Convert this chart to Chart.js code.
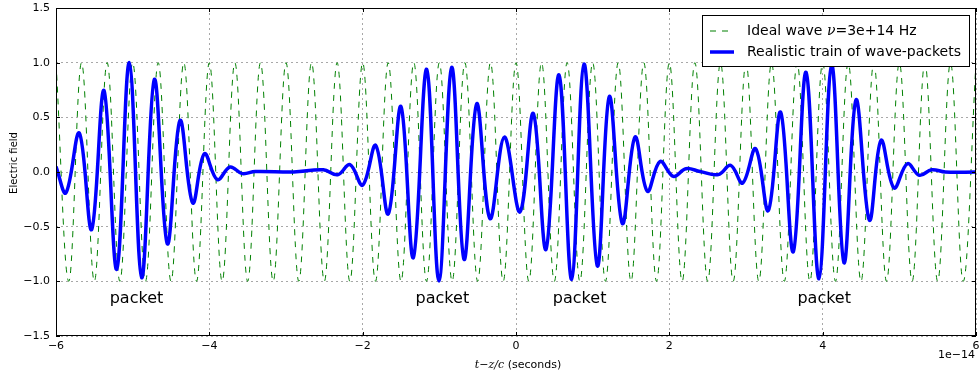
<!DOCTYPE html>
<html>
<head>
<meta charset="utf-8">
<script src="https://cdn.jsdelivr.net/npm/chart.js@4/dist/chart.umd.min.js"></script>
<style>
  html, body { margin: 0; padding: 0; background: #fff; }
  #wrap { width: 980px; height: 379px; }
</style>
</head>
<body>
<div id="wrap"><canvas id="grafico" width="980" height="379"></canvas></div>
<script>
// time in units of 1e-14 s
const idealT = [
  -6.000, -5.833, -5.667, -5.500, -5.333, -5.167, -5.000, -4.833, -4.667, -4.500,
  -4.333, -4.167, -4.000, -3.833, -3.667, -3.500, -3.333, -3.167, -3.000, -2.833,
  -2.667, -2.500, -2.333, -2.167, -2.000, -1.833, -1.667, -1.500, -1.333, -1.167,
  -1.000, -0.833, -0.667, -0.500, -0.333, -0.167, 0.000, 0.167, 0.333, 0.500,
  0.667, 0.833, 1.000, 1.167, 1.333, 1.500, 1.667, 1.833, 2.000, 2.167,
  2.333, 2.500, 2.667, 2.833, 3.000, 3.167, 3.333, 3.500, 3.667, 3.833,
  4.000, 4.167, 4.333, 4.500, 4.667, 4.833, 5.000, 5.167, 5.333, 5.500,
  5.667, 5.833, 6.000
];
const idealE = [
  1, -1, 1, -1, 1, -1, 1, -1, 1, -1,
  1, -1, 1, -1, 1, -1, 1, -1, 1, -1,
  1, -1, 1, -1, 1, -1, 1, -1, 1, -1,
  1, -1, 1, -1, 1, -1, 1, -1, 1, -1,
  1, -1, 1, -1, 1, -1, 1, -1, 1, -1,
  1, -1, 1, -1, 1, -1, 1, -1, 1, -1,
  1, -1, 1, -1, 1, -1, 1, -1, 1, -1,
  1, -1, 1
];

const trenT = [
  -6.000, -5.870, -5.696, -5.535, -5.374, -5.208, -5.044, -4.882, -4.717, -4.548,
  -4.383, -4.217, -4.065, -3.896, -3.730, -3.570, -3.400, -2.900, -2.513, -2.326,
  -2.165, -2.000, -1.830, -1.665, -1.500, -1.339, -1.165, -1.005, -0.839, -0.678,
  -0.513, -0.339, -0.152, 0.052, 0.226, 0.391, 0.561, 0.726, 0.887, 1.061,
  1.217, 1.387, 1.552, 1.713, 1.878, 2.052, 2.217, 2.400, 2.639, 2.800,
  2.957, 3.126, 3.291, 3.452, 3.617, 3.783, 3.952, 4.117, 4.278, 4.435,
  4.609, 4.761, 4.930, 5.104, 5.261, 5.422, 5.600, 6.000
];
const trenE = [
  0.05, -0.19, 0.356, -0.526, 0.745, -0.89, 1.0, -0.967, 0.848, -0.657,
  0.471, -0.283, 0.167, -0.07, 0.046, -0.015, 0.005, 0.0, 0.02, -0.025,
  0.067, -0.12, 0.243, -0.383, 0.599, -0.784, 0.939, -0.997, 0.957, -0.799,
  0.623, -0.426, 0.319, -0.365, 0.535, -0.708, 0.888, -0.982, 0.988, -0.86,
  0.69, -0.471, 0.319, -0.176, 0.097, -0.04, 0.03, 0.005, -0.024, 0.06,
  -0.1, 0.213, -0.353, 0.547, -0.729, 0.912, -0.976, 0.98, -0.83, 0.66,
  -0.44, 0.289, -0.146, 0.076, -0.03, 0.021, 0.0, 0.0
];

const etiquetasX = [-4.95, -0.96, 0.83, 4.02];
const etiquetaY = -1.16;
const etiquetaTexto = "packet";

const ticksX = [-6, -4, -2, 0, 2, 4, 6];
const ticksY = [-1.5, -1.0, -0.5, 0.0, 0.5, 1.0, 1.5];

const menos = s => String(s).replace("-", "\u2212");

const puntos = (xs, ys) => xs.map((x, i) => ({ x: x, y: ys[i] }));

const extras = {
  id: "extras",
  afterDatasetsDraw(chart) {
    const { ctx, chartArea: a, scales } = chart;
    const sx = scales.x, sy = scales.y;
    ctx.save();
    // tick marks inside, all four sides
    ctx.strokeStyle = "#000";
    ctx.lineWidth = 1;
    ctx.beginPath();
    ticksX.forEach(v => {
      const px = Math.round(sx.getPixelForValue(v)) + 0.5;
      ctx.moveTo(px, a.bottom); ctx.lineTo(px, a.bottom - 4);
      ctx.moveTo(px, a.top); ctx.lineTo(px, a.top + 4);
    });
    ticksY.forEach(v => {
      const py = Math.round(sy.getPixelForValue(v)) + 0.5;
      ctx.moveTo(a.left, py); ctx.lineTo(a.left + 4, py);
      ctx.moveTo(a.right, py); ctx.lineTo(a.right - 4, py);
    });
    ctx.stroke();
    // frame
    ctx.strokeRect(Math.round(a.left) + 0.5, Math.round(a.top) + 0.5,
      Math.round(a.right - a.left) - 1, Math.round(a.bottom - a.top) - 1);

    // packet labels
    ctx.fillStyle = "#000";
    ctx.font = "16px 'DejaVu Sans'";
    ctx.textAlign = "center";
    ctx.textBaseline = "middle";
    etiquetasX.forEach(v => {
      ctx.fillText(etiquetaTexto, sx.getPixelForValue(v), sy.getPixelForValue(etiquetaY));
    });

    // legend
    const lx = 702, ly = 15, lw = 267, lh = 51;
    ctx.fillStyle = "#fff";
    ctx.fillRect(lx, ly, lw, lh);
    ctx.strokeStyle = "#000";
    ctx.lineWidth = 1;
    ctx.strokeRect(lx + 0.5, ly + 0.5, lw, lh);

    ctx.strokeStyle = "#008000";
    ctx.lineWidth = 1;
    ctx.setLineDash([6, 6]);
    ctx.beginPath();
    ctx.moveTo(710, 31); ctx.lineTo(734, 31);
    ctx.stroke();
    ctx.setLineDash([]);
    ctx.strokeStyle = "#0000ff";
    ctx.lineWidth = 3.5;
    ctx.beginPath();
    ctx.moveTo(710, 52); ctx.lineTo(734, 52);
    ctx.stroke();

    ctx.fillStyle = "#000";
    ctx.textAlign = "left";
    ctx.textBaseline = "middle";
    let x = 747;
    const partes = [
      ["Ideal wave ", "14px 'DejaVu Sans'"],
      ["\u03bd", "italic 14px 'DejaVu Serif'"],
      ["=3e+14 Hz", "14px 'DejaVu Sans'"]
    ];
    partes.forEach(p => {
      ctx.font = p[1];
      ctx.fillText(p[0], x, 31);
      x += ctx.measureText(p[0]).width;
    });
    ctx.font = "14px 'DejaVu Sans'";
    ctx.fillText("Realistic train of wave-packets", 747, 52);

    // axis titles
    ctx.font = "10px 'DejaVu Sans'";
    ctx.textAlign = "center";
    ctx.save();
    ctx.translate(14, 163);
    ctx.rotate(-Math.PI / 2);
    ctx.fillText("Electric field", 0, 0);
    ctx.restore();

    const tituloX = [
      ["t\u2212z/c", "italic 11px 'DejaVu Serif'"],
      [" (seconds)", "11px 'DejaVu Sans'"]
    ];
    let ancho = 0;
    tituloX.forEach(p => { ctx.font = p[1]; ancho += ctx.measureText(p[0]).width; });
    let tx = (a.left + a.right) / 2 + 2 - ancho / 2;
    ctx.textAlign = "left";
    tituloX.forEach(p => {
      ctx.font = p[1];
      ctx.fillText(p[0], tx, 365);
      tx += ctx.measureText(p[0]).width;
    });

    ctx.font = "11px 'DejaVu Sans'";
    ctx.textAlign = "right";
    ctx.fillText("1e\u221214", a.right - 1, 355);
    ctx.restore();
  }
};

const ctx = document.getElementById("grafico").getContext("2d");

new Chart(ctx, {
  type: "line",
  data: {
    datasets: [
      {
        label: "Realistic train of wave-packets",
        data: puntos(trenT, trenE),
        borderColor: "#0000ff",
        borderWidth: 3.5,
        pointRadius: 0,
        fill: false,
        tension: 0.38,
        order: 0
      },
      {
        label: "Ideal wave",
        data: puntos(idealT, idealE),
        borderColor: "#008000",
        borderWidth: 1,
        borderDash: [6, 6],
        pointRadius: 0,
        fill: false,
        tension: 0.38,
        order: 1
      }
    ]
  },
  options: {
    responsive: false,
    animation: false,
    devicePixelRatio: 1,
    layout: { padding: { top: 8, right: 4, left: 0, bottom: 0 } },
    plugins: { legend: { display: false }, tooltip: { enabled: false } },
    scales: {
      x: {
        type: "linear",
        min: -6, max: 6,
        afterFit: s => { s.height = 43; s.paddingLeft = 0; s.paddingRight = 0; },
        afterBuildTicks: s => { s.ticks = ticksX.map(v => ({ value: v })); },
        ticks: {
          padding: 4,
          maxRotation: 0,
          color: "#000",
          font: { family: "'DejaVu Sans'", size: 11 },
          callback: v => menos(v)
        },
        grid: { color: "#a8a8a8", lineWidth: 1, drawTicks: false },
        border: { display: false, dash: [2, 3] }
      },
      y: {
        min: -1.5, max: 1.5,
        afterFit: s => { s.width = 56; s.paddingTop = 0; s.paddingBottom = 0; },
        afterBuildTicks: s => { s.ticks = ticksY.map(v => ({ value: v })); },
        ticks: {
          padding: 6,
          color: "#000",
          font: { family: "'DejaVu Sans'", size: 11 },
          callback: v => menos(Number(v).toFixed(1))
        },
        grid: { color: "#a8a8a8", lineWidth: 1, drawTicks: false },
        border: { display: false, dash: [2, 3] }
      }
    }
  },
  plugins: [extras]
});
</script>
</body>
</html>
